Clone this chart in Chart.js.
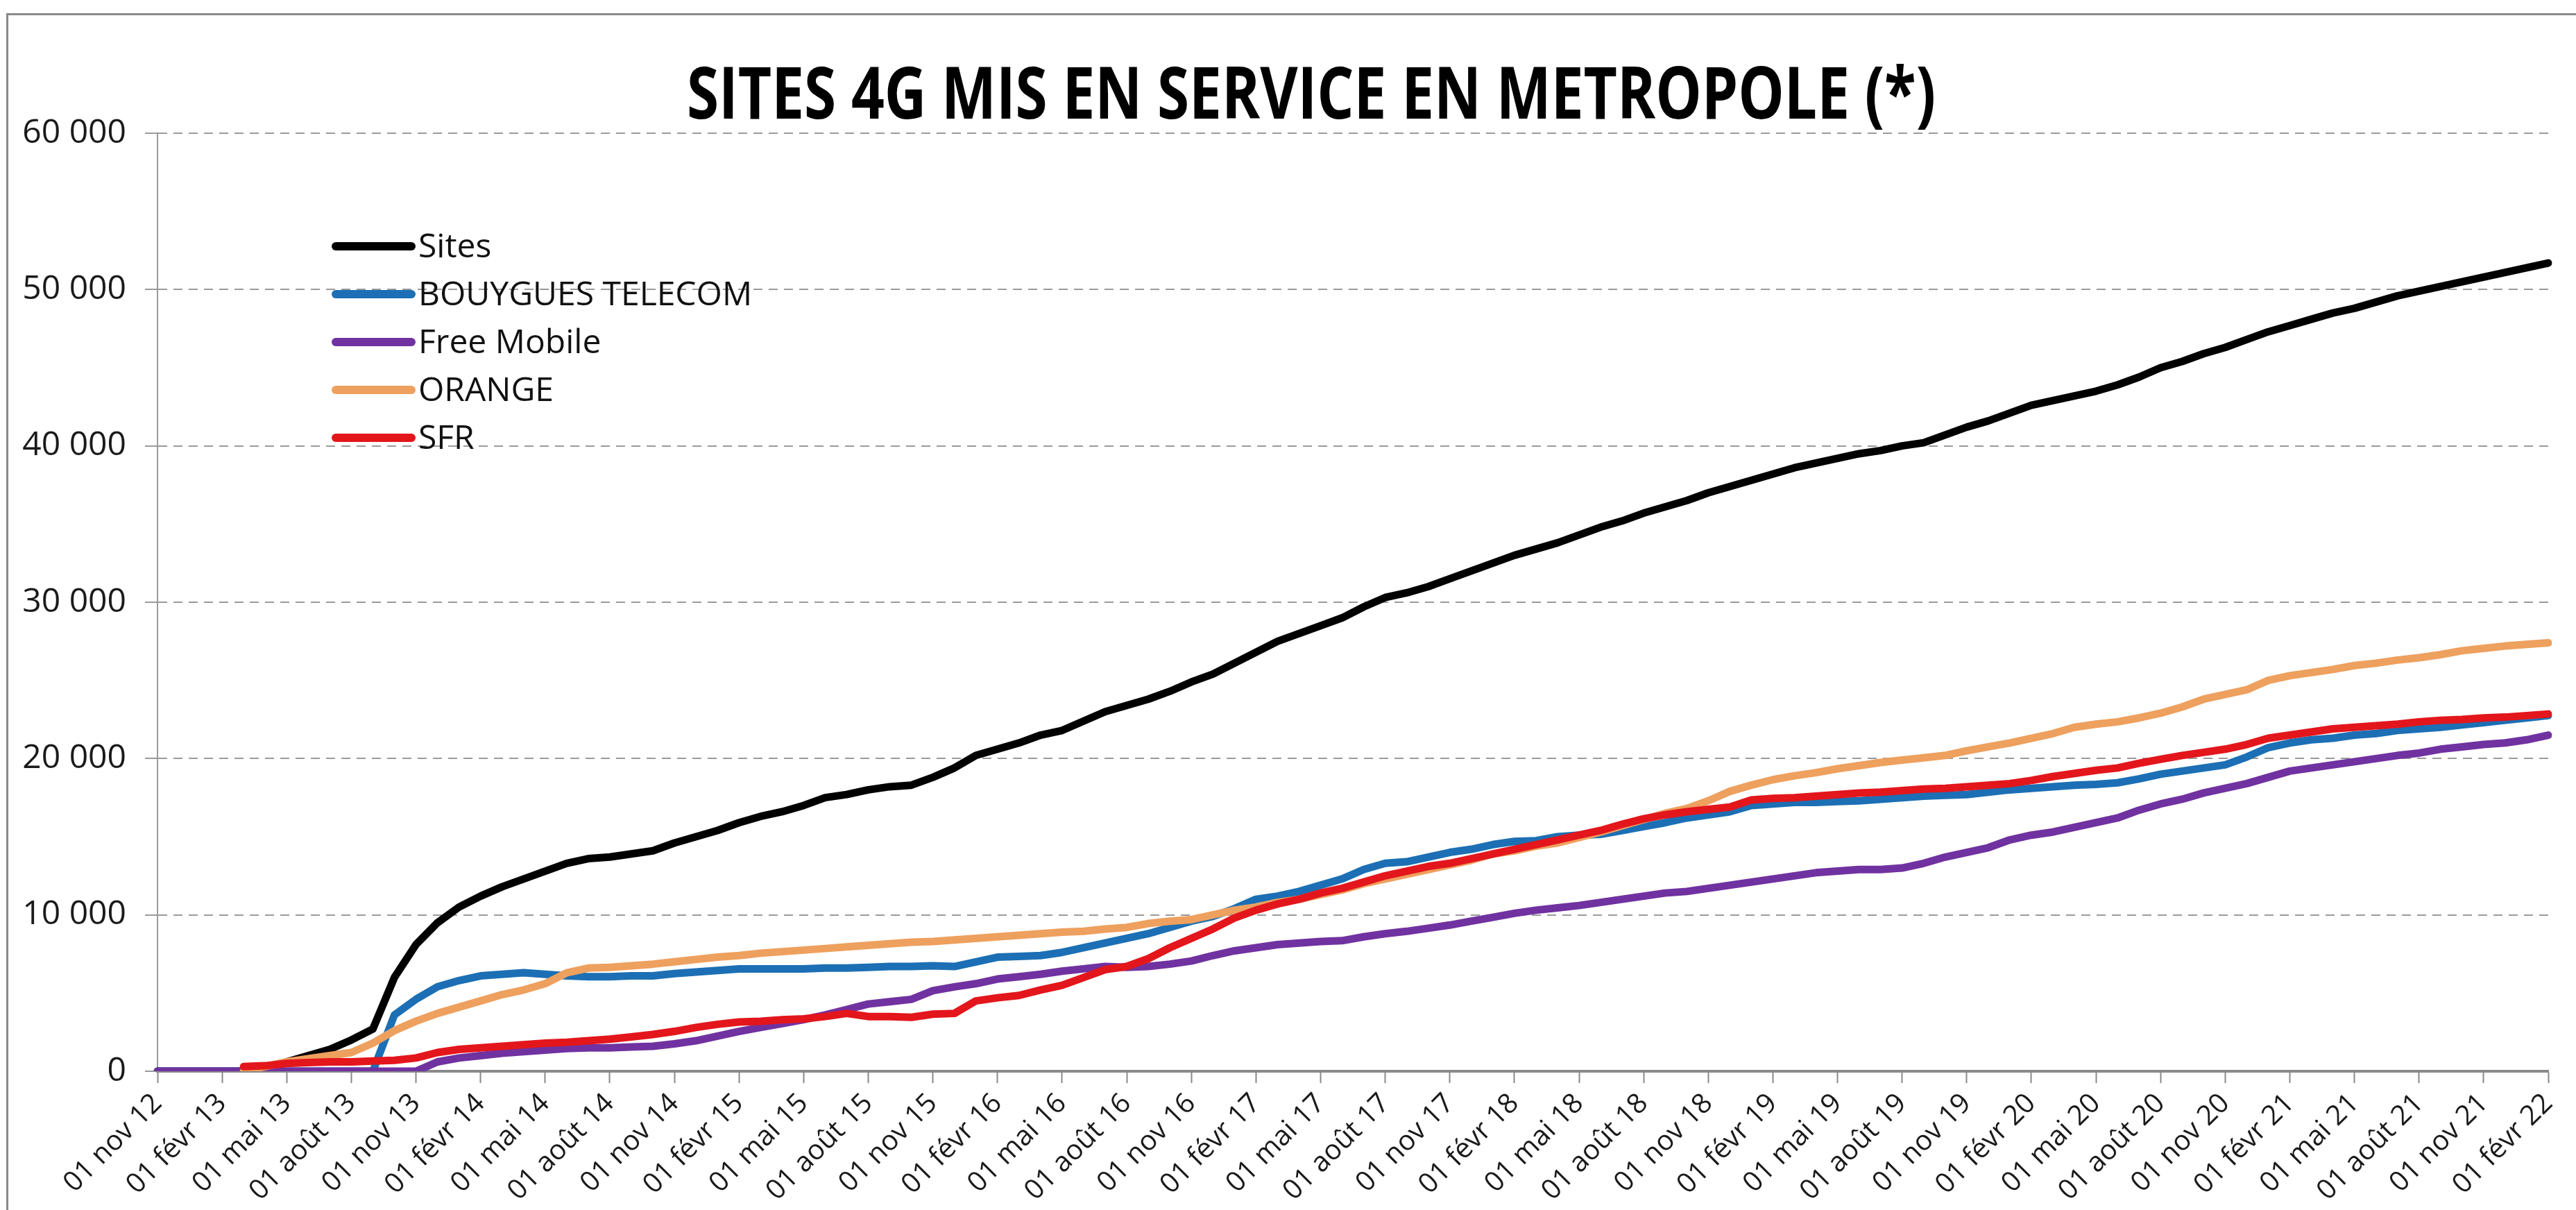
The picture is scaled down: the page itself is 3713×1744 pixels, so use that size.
<!DOCTYPE html>
<html lang="fr">
<head>
<meta charset="utf-8">
<title>Sites 4G mis en service en métropole</title>
<script src="https://cdn.jsdelivr.net/npm/chart.js@4.4.1/dist/chart.umd.min.js"></script>
<style>
  html, body { margin: 0; padding: 0; background: #fff; }
  #wrap { width: 3713px; height: 1744px; }
</style>
</head>
<body>
<div id="wrap"><canvas id="chart" width="3713" height="1744"></canvas></div>
<script>
// Données (sites 4G mis en service, un point par mois de nov 2012 à févr 2022)
const monthNames = ['janv', 'févr', 'mars', 'avr', 'mai', 'juin', 'juil', 'août', 'sept', 'oct', 'nov', 'déc'];
const firstMonth = 10;   // novembre
const firstYear = 2012;
const monthCount = 112;

const sites = [
    0, 0, 0, 0, 0, 50, 600, 1000, 1400, 2000,
    2700, 6000, 8100, 9500, 10500, 11200, 11800, 12300, 12800, 13300,
    13600, 13700, 13900, 14100, 14600, 15000, 15400, 15900, 16300, 16600,
    17000, 17500, 17700, 18000, 18200, 18300, 18800, 19400, 20200, 20600,
    21000, 21500, 21800, 22400, 23000, 23400, 23800, 24300, 24900, 25400,
    26100, 26800, 27500, 28000, 28500, 29000, 29700, 30300, 30600, 31000,
    31500, 32000, 32500, 33000, 33400, 33800, 34300, 34800, 35200, 35700,
    36100, 36500, 37000, 37400, 37800, 38200, 38600, 38900, 39200, 39500,
    39700, 40000, 40200, 40700, 41200, 41600, 42100, 42600, 42900, 43200,
    43500, 43900, 44400, 45000, 45400, 45900, 46300, 46800, 47300, 47700,
    48100, 48500, 48800, 49200, 49600, 49900, 50200, 50500, 50800, 51100,
    51400, 51700
];

const bouygues = [
    0, 0, 0, 0, 0, 0, 0, 0, 0, 0,
    0, 3600, 4600, 5400, 5800, 6100, 6200, 6300, 6200, 6100,
    6050, 6050, 6100, 6100, 6250, 6350, 6450, 6550, 6550, 6550,
    6550, 6600, 6600, 6650, 6700, 6700, 6750, 6700, 7000, 7300,
    7350, 7400, 7600, 7900, 8200, 8500, 8800, 9200, 9600, 9900,
    10400, 11000, 11200, 11500, 11900, 12300, 12900, 13300, 13400, 13700,
    14000, 14200, 14500, 14700, 14750, 15000, 15100, 15150, 15400, 15650,
    15900, 16200, 16400, 16600, 17000, 17100, 17200, 17200, 17250, 17300,
    17400, 17500, 17600, 17650, 17700, 17850, 18000, 18100, 18200, 18300,
    18350, 18450, 18700, 19000, 19200, 19400, 19600, 20100, 20700, 21000,
    21200, 21300, 21500, 21600, 21800, 21900, 22000, 22150, 22300, 22450,
    22600, 22750
];

const freeMobile = [
    0, 0, 0, 0, 0, 0, 0, 0, 0, 0,
    0, 0, 0, 600, 850, 1000, 1150, 1250, 1350, 1450,
    1500, 1500, 1550, 1600, 1750, 1950, 2250, 2550, 2800, 3050,
    3300, 3600, 3950, 4300, 4450, 4600, 5150, 5400, 5600, 5900,
    6050, 6200, 6400, 6550, 6700, 6650, 6700, 6850, 7050, 7400,
    7700, 7900, 8100, 8200, 8300, 8350, 8600, 8800, 8950, 9150,
    9350, 9600, 9850, 10100, 10300, 10450, 10600, 10800, 11000, 11200,
    11400, 11500, 11700, 11900, 12100, 12300, 12500, 12700, 12800, 12900,
    12900, 13000, 13300, 13700, 14000, 14300, 14800, 15100, 15300, 15600,
    15900, 16200, 16700, 17100, 17400, 17800, 18100, 18400, 18800, 19200,
    19400, 19600, 19800, 20000, 20200, 20350, 20600, 20750, 20900, 21000,
    21200, 21500
];

const orange = [
    null, null, null, null, 0, 300, 600, 800, 1000, 1200,
    1800, 2600, 3200, 3700, 4100, 4500, 4900, 5200, 5600, 6300,
    6600, 6650, 6750, 6850, 7000, 7150, 7300, 7400, 7550, 7650,
    7750, 7850, 7950, 8050, 8150, 8250, 8300, 8400, 8500, 8600,
    8700, 8800, 8900, 8950, 9100, 9200, 9450, 9600, 9700, 10000,
    10300, 10500, 10800, 11000, 11300, 11600, 12000, 12300, 12600, 12900,
    13200, 13500, 13900, 14100, 14400, 14600, 14950, 15300, 15700, 16100,
    16500, 16800, 17300, 17900, 18300, 18650, 18900, 19100, 19350, 19550,
    19750, 19900, 20050, 20200, 20500, 20750, 21000, 21300, 21600, 22000,
    22200, 22350, 22600, 22900, 23300, 23800, 24100, 24400, 25000, 25300,
    25500, 25700, 25950, 26100, 26300, 26450, 26650, 26900, 27050, 27200,
    27300, 27400
];

const sfr = [
    null, null, null, null, 300, 350, 500, 550, 600, 600,
    650, 700, 850, 1200, 1400, 1500, 1600, 1700, 1800, 1850,
    1950, 2050, 2200, 2350, 2550, 2800, 3000, 3150, 3200, 3300,
    3350, 3500, 3700, 3500, 3500, 3450, 3650, 3700, 4500, 4700,
    4850, 5200, 5500, 6000, 6500, 6700, 7200, 7900, 8500, 9100,
    9800, 10300, 10700, 11000, 11400, 11700, 12100, 12500, 12800, 13100,
    13300, 13600, 13900, 14200, 14500, 14800, 15100, 15400, 15800, 16150,
    16400, 16600, 16750, 16900, 17350, 17450, 17500, 17600, 17700, 17800,
    17850, 17950, 18050, 18100, 18200, 18300, 18400, 18600, 18850, 19050,
    19250, 19400, 19700, 19950, 20200, 20400, 20600, 20900, 21300, 21500,
    21700, 21900, 22000, 22100, 22200, 22350, 22450, 22500, 22600, 22650,
    22750, 22850
];

const yTicks = [0, 10000, 20000, 30000, 40000, 50000, 60000];

// étiquettes mensuelles "01 nov 12", "01 déc 12", ...
const labels = [];
for (let i = 0; i < monthCount; i++) {
    const m = (firstMonth + i) % 12;
    const y = firstYear + Math.floor((firstMonth + i) / 12);
    labels.push('01 ' + monthNames[m] + ' ' + String(y).slice(2));
}

// format "60 000"
function formatThousands(v) {
    return String(v).replace(/\B(?=(\d{3})+(?!\d))/g, ' ');
}

// cadre gris du graphique
const frame = {
    id: 'frame',
    beforeDraw(chart) {
        const ctx = chart.ctx;
        ctx.save();
        ctx.strokeStyle = '#8a8a8a';
        ctx.lineWidth = 3;
        ctx.strokeRect(10.5, 20.5, chart.width + 20, chart.height + 20);
        ctx.restore();
    }
};

// titre en gras, resserré horizontalement (police étroite type Calibri)
const narrowTitle = {
    id: 'narrowTitle',
    afterDraw(chart, args, opts) {
        const ctx = chart.ctx;
        ctx.save();
        ctx.font = opts.font;
        ctx.fillStyle = opts.color;
        ctx.textAlign = 'center';
        ctx.textBaseline = 'alphabetic';
        const w = ctx.measureText(opts.text).width;
        const sx = Math.min(1, opts.width / w);
        ctx.translate(opts.centerX, opts.baseline);
        ctx.scale(sx, 1);
        ctx.fillText(opts.text, 0, 0);
        ctx.restore();
    }
};

// légende dessinée dans la zone du graphique
const insideLegend = {
    id: 'insideLegend',
    afterDatasetsDraw(chart, args, opts) {
        const ctx = chart.ctx;
        const area = chart.chartArea;
        const x0 = area.left + opts.offsetX;
        let y = area.top + opts.offsetY;
        ctx.save();
        ctx.font = opts.font;
        ctx.textBaseline = 'middle';
        ctx.textAlign = 'left';
        chart.data.datasets.forEach(ds => {
            ctx.strokeStyle = ds.borderColor;
            ctx.lineWidth = opts.lineWidth;
            ctx.lineCap = 'round';
            ctx.beginPath();
            ctx.moveTo(x0, y);
            ctx.lineTo(x0 + opts.lineLength, y);
            ctx.stroke();
            ctx.fillStyle = opts.color;
            ctx.fillText(ds.label, x0 + opts.lineLength + opts.gap, y + 2);
            y += opts.rowHeight;
        });
        ctx.restore();
    }
};

function lineSet(label, data, color, order) {
    return {
        label: label,
        data: data,
        borderColor: color,
        backgroundColor: color,
        borderWidth: 11,
        pointRadius: 0,
        pointHoverRadius: 0,
        tension: 0,
        fill: false,
        borderJoinStyle: 'round',
        borderCapStyle: 'round',
        order: order
    };
}

const ctx = document.getElementById('chart').getContext('2d');
const chart = new Chart(ctx, {
    type: 'line',
    data: {
        labels: labels,
        datasets: [
            lineSet('Sites', sites, '#000000', 4),
            lineSet('BOUYGUES TELECOM', bouygues, '#1c6fb4', 3),
            lineSet('Free Mobile', freeMobile, '#7032a0', 2),
            lineSet('ORANGE', orange, '#eea05e', 1),
            lineSet('SFR', sfr, '#e3161c', 0)
        ]
    },
    options: {
        responsive: false,
        animation: false,
        devicePixelRatio: 1,
        layout: {
            padding: { left: 10, right: 29, top: 192, bottom: 0 }
        },
        plugins: {
            legend: { display: false },
            tooltip: { enabled: false },
            title: { display: false },
            narrowTitle: {
                text: 'SITES 4G MIS EN SERVICE EN METROPOLE (*)',
                font: "bold 104px 'Open Sans', sans-serif",
                color: '#000',
                width: 1800,
                centerX: 1890,
                baseline: 171
            },
            insideLegend: {
                offsetX: 257,
                offsetY: 163,
                rowHeight: 69,
                lineLength: 109,
                lineWidth: 12,
                gap: 10,
                font: "48px 'Open Sans', sans-serif",
                color: '#111'
            }
        },
        scales: {
            x: {
                type: 'category',
                offset: false,
                grid: {
                    drawOnChartArea: false,
                    drawTicks: true,
                    tickLength: 17,
                    tickColor: '#888',
                    tickWidth: 2
                },
                border: { display: true, color: '#8a8a8a', width: 4 },
                ticks: {
                    autoSkip: false,
                    maxRotation: 45,
                    minRotation: 45,
                    padding: 6,
                    color: '#1a1a1a',
                    font: { family: "'Open Sans', sans-serif", size: 40 },
                    callback: function(value, index) {
                        return index % 3 === 0 ? this.getLabelForValue(value) : null;
                    }
                },
                afterFit: function(scale) {
                    scale.height = 200;
                }
            },
            y: {
                min: 0,
                max: 60000,
                afterBuildTicks: function(scale) {
                    scale.ticks = yTicks.map(v => ({ value: v }));
                },
                grid: {
                    color: '#9a9a9a',
                    lineWidth: 2,
                    drawTicks: true,
                    tickLength: 18,
                    tickColor: '#9a9a9a'
                },
                border: { display: true, color: '#9a9a9a', width: 2, dash: [13, 9] },
                ticks: {
                    padding: 27,
                    color: '#1a1a1a',
                    font: { family: "'Open Sans', sans-serif", size: 48 },
                    callback: function(value) {
                        return formatThousands(value);
                    }
                },
                afterFit: function(scale) {
                    scale.width = 217;
                }
            }
        }
    },
    plugins: [frame, narrowTitle, insideLegend]
});
</script>
</body>
</html>
